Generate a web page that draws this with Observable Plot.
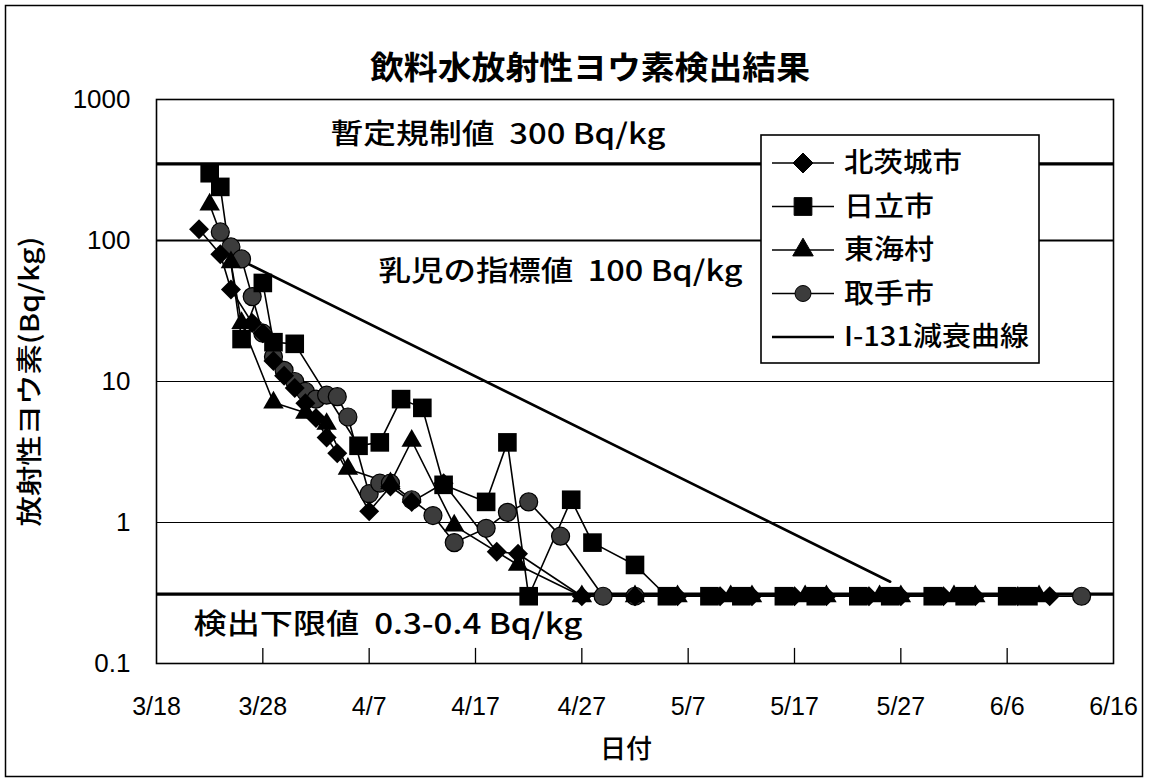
<!DOCTYPE html>
<html><head><meta charset="utf-8">
<script src="https://cdn.jsdelivr.net/npm/d3@7"></script>
<script src="https://cdn.jsdelivr.net/npm/@observablehq/plot@0.6"></script>
<style>
body{margin:0;background:#fff;}
#wrap{position:relative;width:1149px;height:783px;overflow:hidden;}
</style></head><body><div id="wrap"></div>
<script>
// ---- data ----
const kitaDates   = ["3/22","3/24","3/25","3/27","3/28","3/29","3/30","3/31","4/1","4/2","4/3","4/4","4/7","4/9","4/11","4/14","4/19","4/21","4/27","5/2","5/6","5/10","5/13","5/17","5/20","5/24","5/27","5/31","6/3","6/7","6/10"];
const kitaValues  = [120,80,45,26,22,14,11,9,7,5.5,4.0,3.1,1.2,1.8,1.4,1.9,0.62,0.6,0.3,0.3,0.3,0.3,0.3,0.3,0.3,0.3,0.3,0.3,0.3,0.3,0.3];
const hitaDates   = ["3/23","3/24","3/26","3/28","3/29","3/31","4/6","4/8","4/10","4/12","4/14","4/18","4/20","4/22","4/26","4/28","5/2","5/5","5/9","5/12","5/16","5/19","5/23","5/26","5/30","6/2","6/6","6/8"];
const hitaValues  = [300,240,20,50,19,18.5,3.5,3.7,7.5,6.5,1.85,1.4,3.7,0.3,1.45,0.72,0.5,0.3,0.3,0.3,0.3,0.3,0.3,0.3,0.3,0.3,0.3,0.3];
const tokaDates   = ["3/23","3/25","3/26","3/29","4/1","4/3","4/5","4/9","4/11","4/15","4/21","4/27","5/2","5/6","5/11","5/13","5/18","5/20","5/25","5/27","6/1","6/3","6/9"];
const tokaValues  = [180,70,26,7.1,6,5,2.4,1.9,3.8,0.95,0.5,0.3,0.3,0.3,0.3,0.3,0.3,0.3,0.3,0.3,0.3,0.3,0.3];
const toriDates   = ["3/24","3/25","3/26","3/27","3/28","3/29","3/30","3/31","4/1","4/2","4/3","4/4","4/5","4/7","4/8","4/9","4/11","4/13","4/15","4/18","4/20","4/22","4/25","4/29","5/2","6/13"];
const toriValues  = [115,90,74,40,22,15,12,10,8.5,7.5,8,7.8,5.6,1.6,1.9,1.9,1.45,1.12,0.72,0.91,1.18,1.4,0.8,0.3,0.3,0.3];
const decayDates  = ["3/26","5/26"];
const decayValues = [72,0.38];
const limitValues = [350, 100, 0.31];        // 暫定規制値, 乳児の指標値, 検出下限値 lines
const gridValues  = [1, 10];
const xTickLabels = ["3/18","3/28","4/7","4/17","4/27","5/7","5/17","5/27","6/6","6/16"];
const yTickValues = [0.1, 1, 10, 100, 1000];
const yTickLabels = ["0.1","1","10","100","1000"];
const seriesNames = ["北茨城市","日立市","東海村","取手市","I-131減衰曲線"];

const parse = s => { const [m, d] = s.split("/").map(Number); return new Date(Date.UTC(2011, m - 1, d)); };
const mk = (dates, values) => dates.map((d, i) => ({date: parse(d), value: values[i]}));
const kita = mk(kitaDates, kitaValues);
const hita = mk(hitaDates, hitaValues);
const toka = mk(tokaDates, tokaValues);
const tori = mk(toriDates, toriValues);
const decay = mk(decayDates, decayValues);
const xTicks = xTickLabels.map(parse);

const CJK = "'Noto Sans CJK JP', 'Noto Sans', sans-serif";
const NUM = "'Liberation Sans', Arial, sans-serif";
const MK = {stroke: "black", strokeWidth: 1.6};

const chart = Plot.plot({
  width: 1149, height: 783,
  marginLeft: 156, marginRight: 36, marginTop: 99, marginBottom: 120,
  style: {background: "white", fontFamily: CJK, color: "black"},
  x: {type: "utc", domain: [parse("3/18"), parse("6/16")]},
  y: {type: "log", domain: [0.1, 1000]},
  marks: [
    Plot.ruleY(gridValues, {stroke: "black", strokeWidth: 1.2}),
    Plot.ruleY([limitValues[1]], {stroke: "black", strokeWidth: 2}),
    Plot.ruleY([limitValues[0], limitValues[2]], {stroke: "black", strokeWidth: 3.2}),
    Plot.ruleX(xTicks.slice(1, -1), {y1: 0.1, y2: 0.128, stroke: "black", strokeWidth: 1.3}),
    Plot.frame({stroke: "black", strokeWidth: 1.6}),
    Plot.axisX({ticks: xTicks, tickFormat: d => xTickLabels[xTicks.findIndex(t => +t === +d)], tickSize: 0, tickPadding: 34, fontSize: 25, fontFamily: NUM, label: null}),
    Plot.axisY({ticks: yTickValues, tickFormat: d => yTickLabels[yTickValues.indexOf(d)], tickSize: 0, tickPadding: 26, fontSize: 26, fontFamily: NUM, label: null}),
    Plot.line(decay, {x: "date", y: "value", stroke: "black", strokeWidth: 2.6}),
    Plot.line(kita, {x: "date", y: "value", ...MK}),
    Plot.line(hita, {x: "date", y: "value", ...MK}),
    Plot.line(toka, {x: "date", y: "value", ...MK}),
    Plot.line(tori, {x: "date", y: "value", ...MK}),
    Plot.dot(tori, {x: "date", y: "value", symbol: "circle", r: 9, fill: "#3c3c3c", stroke: "black", strokeWidth: 1.2}),
    Plot.dot(kita, {x: "date", y: "value", symbol: "diamond2", r: 9, fill: "black"}),
    Plot.dot(toka, {x: "date", y: "value", symbol: "triangle", r: 7.6, fill: "black"}),
    Plot.dot(hita, {x: "date", y: "value", symbol: "square", r: 10.5, fill: "black"}),
    Plot.text(["暫定規制値  300 Bq/kg"], {className: "ann-a", frameAnchor: "top-left", dx: 174, dy: 36, textAnchor: "start", lineAnchor: "middle", fontSize: 28, fontWeight: 500, fontFamily: CJK}),
    Plot.text(["乳児の指標値  100 Bq/kg"], {className: "ann-b", frameAnchor: "top-left", dx: 222, dy: 173, textAnchor: "start", lineAnchor: "middle", fontSize: 28, fontWeight: 500, fontFamily: CJK}),
    Plot.text(["検出下限値  0.3-0.4 Bq/kg"], {className: "ann-c", frameAnchor: "top-left", dx: 37, dy: 526, textAnchor: "start", lineAnchor: "middle", fontSize: 28, fontWeight: 500, fontFamily: CJK}),
    Plot.text(["飲料水放射性ヨウ素検出結果"], {className: "ann-t", frameAnchor: "top", dx: -45, dy: -31, lineAnchor: "middle", fontSize: 32, fontWeight: "bold", fontFamily: CJK}),
    Plot.text(["日付"], {frameAnchor: "bottom", dx: -9, dy: 86, lineAnchor: "middle", fontSize: 26, fontWeight: 500, fontFamily: CJK}),
    Plot.text(["放射性ヨウ素(Bq/kg)"], {className: "ann-y", frameAnchor: "left", dx: -126, rotate: -90, textAnchor: "middle", lineAnchor: "middle", fontSize: 26, fontWeight: 500, fontFamily: CJK})
  ]
});
document.getElementById("wrap").appendChild(chart);

const svg = d3.select(chart);
// stretch text to the widths seen in the reference
const fit = (cls, len) => svg.selectAll(`g.${cls} text`).attr("textLength", len).attr("lengthAdjust", "spacingAndGlyphs");
fit("ann-a", 335); fit("ann-b", 364); fit("ann-c", 389); fit("ann-t", 440); fit("ann-y", 290);

// outer border and legend
svg.append("rect").attr("x", 5.5).attr("y", 5.5).attr("width", 1137).attr("height", 771)
  .attr("fill", "none").attr("stroke", "black").attr("stroke-width", 1.5);
const lg = svg.append("g").attr("text-anchor", "start");
lg.append("rect").attr("x", 761).attr("y", 135).attr("width", 278).attr("height", 228)
  .attr("fill", "white").attr("stroke", "black").attr("stroke-width", 1.6);
const legendSyms = [
  {sym: d3.symbolDiamond2, size: Math.PI * 81, fill: "black"},
  {sym: d3.symbolSquare, size: Math.PI * 100, fill: "black"},
  {sym: d3.symbolTriangle, size: Math.PI * 58, fill: "black"},
  {sym: d3.symbolCircle, size: Math.PI * 64, fill: "#3c3c3c"},
  null
];
const legendLens = [118, 90, 90, 90, 185];
seriesNames.forEach((name, i) => {
  const y = 163 + i * 43.5;
  lg.append("line").attr("x1", 772).attr("x2", 834).attr("y1", y).attr("y2", y)
    .attr("stroke", "black").attr("stroke-width", i === 4 ? 2.4 : 1.6);
  const s = legendSyms[i];
  if (s) lg.append("path").attr("d", d3.symbol(s.sym, s.size)()).attr("transform", `translate(803,${y})`)
    .attr("fill", s.fill).attr("stroke", "black").attr("stroke-width", 1);
  lg.append("text").attr("x", 844).attr("y", y).attr("dy", "0.35em").attr("font-size", 27)
    .attr("font-weight", 500).attr("font-family", CJK).attr("fill", "black").attr("text-anchor", "start")
    .attr("textLength", legendLens[i]).attr("lengthAdjust", "spacingAndGlyphs").text(name);
});
</script>
</body></html>
